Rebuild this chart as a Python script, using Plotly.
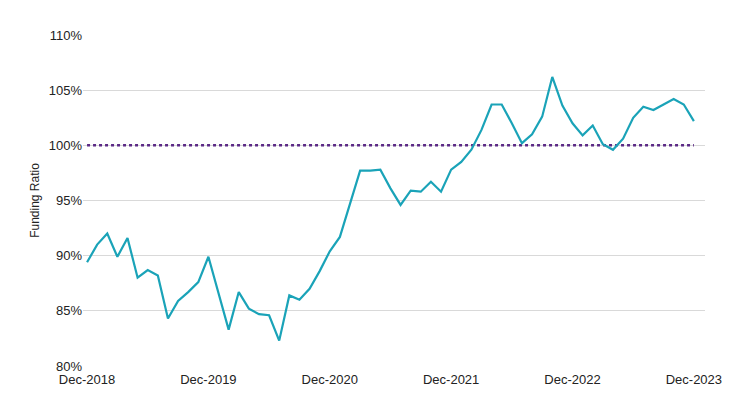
import plotly.graph_objects as go
import pandas as pd

months = pd.date_range("2018-12-01", "2023-12-01", freq="MS")
funding_ratio = [89.4, 91.0, 92.0, 89.9, 91.6, 88.0, 88.7, 88.2, 84.3, 85.9, 86.7, 87.6,
                 89.9, 86.6, 83.3, 86.7, 85.2, 84.7, 84.6, 82.3, 86.4, 86.0, 87.0, 88.6,
                 90.4, 91.7, 94.8, 97.7, 97.7, 97.8, 96.1, 94.6, 95.9, 95.8, 96.7, 95.8,
                 97.8, 98.5, 99.6, 101.4, 103.7, 103.7, 102.0, 100.2, 101.0, 102.6, 106.2, 103.6,
                 102.0, 100.9, 101.8, 100.1, 99.6, 100.6, 102.5, 103.5, 103.2, 103.7, 104.2, 103.7,
                 102.2]
target = [100.0] * len(months)
tick_labels = ["Dec-2018", "Dec-2019", "Dec-2020", "Dec-2021", "Dec-2022", "Dec-2023"]
y_ticks = [80, 85, 90, 95, 100, 105, 110]

idx = list(range(len(months)))
fig = go.Figure()
fig.add_trace(go.Scatter(x=idx, y=target, mode="lines",
                         line=dict(color="#5b2a86", width=2.5, dash="dot"), hoverinfo="skip"))
fig.add_trace(go.Scatter(x=idx, y=funding_ratio, mode="lines",
                         line=dict(color="#1aa3b8", width=2.2)))
fig.update_layout(
    width=739, height=401, showlegend=False,
    margin=dict(l=75, r=42, t=27, b=43),
    plot_bgcolor="white", paper_bgcolor="white",
    font=dict(family="Liberation Sans, Arial", size=13, color="#222"),
    xaxis=dict(range=[-0.4, 61.1], tickvals=[0, 12, 24, 36, 48, 60], ticktext=tick_labels,
               showgrid=False, zeroline=False, showline=False, ticks="",
               automargin=False, ticklabelstandoff=4),
    yaxis=dict(range=[80, 110], tickvals=y_ticks, ticktext=[f"{v}%" for v in y_ticks],
               gridcolor="#d9d9d9", zeroline=False, ticks="", automargin=False,
               title=dict(text="Funding Ratio", font=dict(size=12), standoff=6)),
)
fig.write_html("out.html")
